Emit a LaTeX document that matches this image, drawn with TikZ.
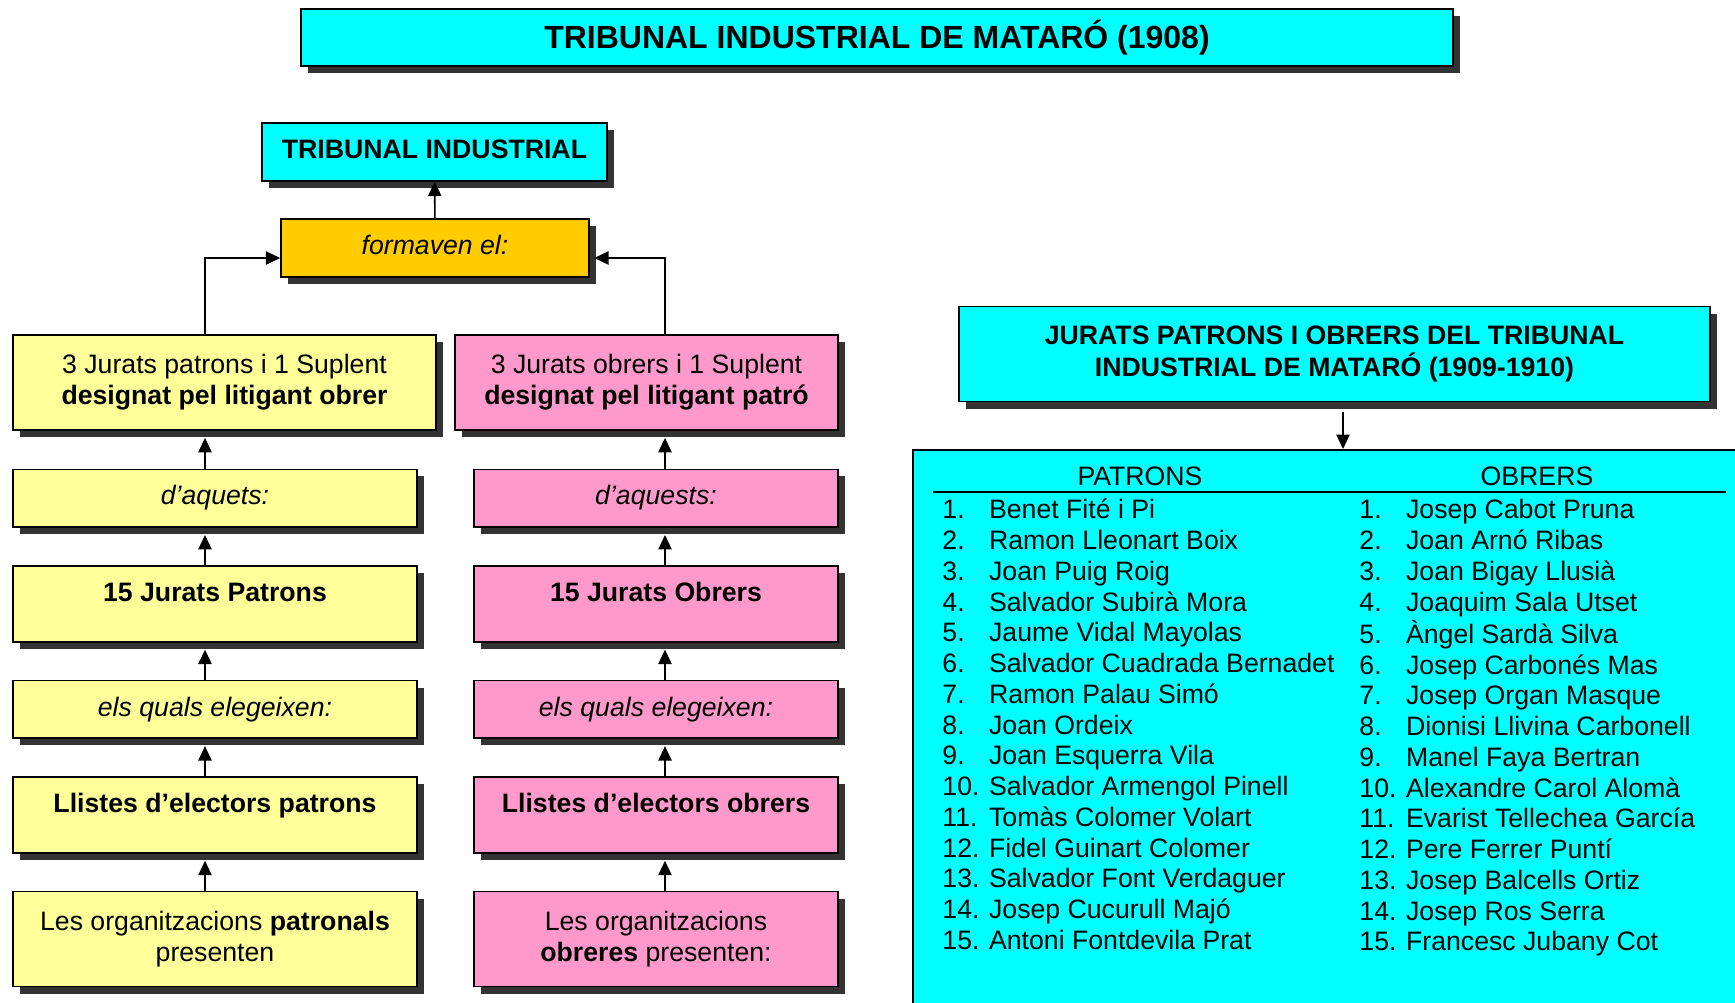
\documentclass[tikz,border=0pt]{standalone}
\usepackage{fontspec}
\setmainfont{Liberation Sans}
\usetikzlibrary{arrows.meta,positioning,shadows}
\definecolor{aqua}{HTML}{00FFFF}
\definecolor{gold}{HTML}{FFCC00}
\definecolor{cream}{HTML}{FFFF99}
\definecolor{rose}{HTML}{FF99CC}
\definecolor{shade}{HTML}{333333}
\tikzset{
  box/.style={draw=black, line width=0.7pt, align=center, inner xsep=4pt, inner ysep=7pt,
    font=\fontsize{12}{14}\selectfont,
    drop shadow={shadow xshift=3.2pt, shadow yshift=-3.2pt, fill=shade, opacity=1}},
  itext/.style={font=\fontsize{12}{14}\selectfont\itshape},
  btext/.style={font=\fontsize{12}{14}\selectfont\bfseries},
  lowbox/.style={text height=9pt, text depth=3pt},
  highbox/.style={text height=9pt, text depth=11.2pt},
  twobox/.style={minimum height=42.75pt},
  patbox/.style={box, fill=cream, minimum width=181.8pt},
  obrbox/.style={box, fill=rose, minimum width=163.8pt},
  arr/.style={-{Triangle[length=6.5pt,width=6pt]}, line width=0.7pt, draw=black}
}
\begin{document}
\begin{tikzpicture}[x=0.45pt, y=-0.45pt]
  \useasboundingbox (0,0) rectangle (1735,1003);
  \clip (0,0) rectangle (1735,1003);
  \coordinate (axL) at (205,0);
  \coordinate (axR) at (665,0);
  \coordinate (axJ) at (1343,0);

  \node[box, fill=aqua, inner ysep=3pt, minimum width=518.4pt, minimum height=25.65pt,
    font=\fontsize{14.4}{16}\selectfont\bfseries] (title) at (877,37.5) {TRIBUNAL INDUSTRIAL DE MATARÓ (1908)};

  \node[box, fill=aqua, lowbox, btext, minimum width=155.25pt] (trib) at (434.5,152) {TRIBUNAL INDUSTRIAL};
  \node[box, fill=gold, lowbox, itext, minimum width=138.6pt] (form) at (435,248) {formaven el:};

  \node[patbox, twobox, minimum width=190.35pt] (desO) at (224.5,382.5) {3 Jurats patrons i 1 Suplent\\\textbf{designat pel litigant obrer}};
  \node[obrbox, twobox, minimum width=172.35pt] (desP) at (646.5,382.5) {3 Jurats obrers i 1 Suplent\\\textbf{designat pel litigant patró}};

  \node[patbox, lowbox, itext, below=17pt of desO.south west, anchor=north west] (daqL) {d’aquets:};
  \node[patbox, highbox, btext, below=16.7pt of daqL] (jurL) {15 Jurats Patrons};
  \node[patbox, lowbox, itext, below=16.7pt of jurL] (eleL) {els quals elegeixen:};
  \node[patbox, highbox, btext, below=16.7pt of eleL] (llL) {Llistes d’electors patrons};
  \node[patbox, twobox, below=16.7pt of llL] (orgL) {Les organitzacions \textbf{patronals}\\presenten};

  \node[obrbox, lowbox, itext, below=17pt of desP.south east, anchor=north east] (daqR) {d’aquests:};
  \node[obrbox, highbox, btext, below=16.7pt of daqR] (jurR) {15 Jurats Obrers};
  \node[obrbox, lowbox, itext, below=16.7pt of jurR] (eleR) {els quals elegeixen:};
  \node[obrbox, highbox, btext, below=16.7pt of eleR] (llR) {Llistes d’electors obrers};
  \node[obrbox, twobox, below=16.7pt of llR] (orgR) {Les organitzacions\\\textbf{obreres} presenten:};

  \draw[arr] (form) -- (trib);
  \draw[arr] (desO.north -| axL) |- ([yshift=-4.5pt]form.west);
  \draw[arr, shorten >=2pt] (desP.north -| axR) |- ([yshift=-4.5pt]form.east);

  \draw[arr, shorten >=3.2pt] (daqL.north -| axL) -- (desO.south -| axL);
  \draw[arr, shorten >=3.2pt] (jurL.north -| axL) -- (daqL.south -| axL);
  \draw[arr, shorten >=3.2pt] (eleL.north -| axL) -- (jurL.south -| axL);
  \draw[arr, shorten >=3.2pt] (llL.north -| axL) -- (eleL.south -| axL);
  \draw[arr, shorten >=3.2pt] (orgL.north -| axL) -- (llL.south -| axL);

  \draw[arr, shorten >=3.2pt] (daqR.north -| axR) -- (desP.south -| axR);
  \draw[arr, shorten >=3.2pt] (jurR.north -| axR) -- (daqR.south -| axR);
  \draw[arr, shorten >=3.2pt] (eleR.north -| axR) -- (jurR.south -| axR);
  \draw[arr, shorten >=3.2pt] (llR.north -| axR) -- (eleR.south -| axR);
  \draw[arr, shorten >=3.2pt] (orgR.north -| axR) -- (llR.south -| axR);

  \node[box, fill=aqua, twobox, btext, minimum width=337.95pt] (jur) at (1334.5,354) {JURATS PATRONS I OBRERS DEL TRIBUNAL\\INDUSTRIAL DE MATARÓ (1909-1910)};
  \node[draw=black, line width=0.7pt, fill=aqua, anchor=north west, minimum width=381.6pt,
    minimum height=261.5pt, inner sep=0pt] (lst) at (912,449) {};
  \draw[arr, shorten <=4.5pt] (jur.south -| axJ) -- (lst.north -| axJ);

  \node[font=\fontsize{12}{14}\selectfont, anchor=base] (hP) at (1140,485.5) {PATRONS};
  \node[font=\fontsize{12}{14}\selectfont, anchor=base] (hO) at (1537,485.5) {OBRERS};
  \draw[line width=0.7pt] (933,492) -- (1726,492);

  \node[anchor=north west, inner sep=0pt, font=\fontsize{12}{13.83}\selectfont] (lstP) at (942,497) {%
    \begin{tabular}{@{}p{21pt}@{}l@{}}
      1. & Benet Fité i Pi\\
      2. & Ramon Lleonart Boix\\
      3. & Joan Puig Roig\\
      4. & Salvador Subirà Mora\\
      5. & Jaume Vidal Mayolas\\
      6. & Salvador Cuadrada Bernadet\\
      7. & Ramon Palau Simó\\
      8. & Joan Ordeix\\
      9. & Joan Esquerra Vila\\
      10. & Salvador Armengol Pinell\\
      11. & Tomàs Colomer Volart\\
      12. & Fidel Guinart Colomer\\
      13. & Salvador Font Verdaguer\\
      14. & Josep Cucurull Majó\\
      15. & Antoni Fontdevila Prat
    \end{tabular}};
  \node[anchor=north west, inner sep=0pt, font=\fontsize{12}{13.83}\selectfont] (lstO) at (1359,497) {%
    \begin{tabular}{@{}p{21pt}@{}l@{}}
      1. & Josep Cabot Pruna\\
      2. & Joan Arnó Ribas\\
      3. & Joan Bigay Llusià\\
      4. & Joaquim Sala Utset\\
      5. & Àngel Sardà Silva\\
      6. & Josep Carbonés Mas\\
      7. & Josep Organ Masque\\
      8. & Dionisi Llivina Carbonell\\
      9. & Manel Faya Bertran\\
      10. & Alexandre Carol Alomà\\
      11. & Evarist Tellechea García\\
      12. & Pere Ferrer Puntí\\
      13. & Josep Balcells Ortiz\\
      14. & Josep Ros Serra\\
      15. & Francesc Jubany Cot
    \end{tabular}};
\end{tikzpicture}
\end{document}
